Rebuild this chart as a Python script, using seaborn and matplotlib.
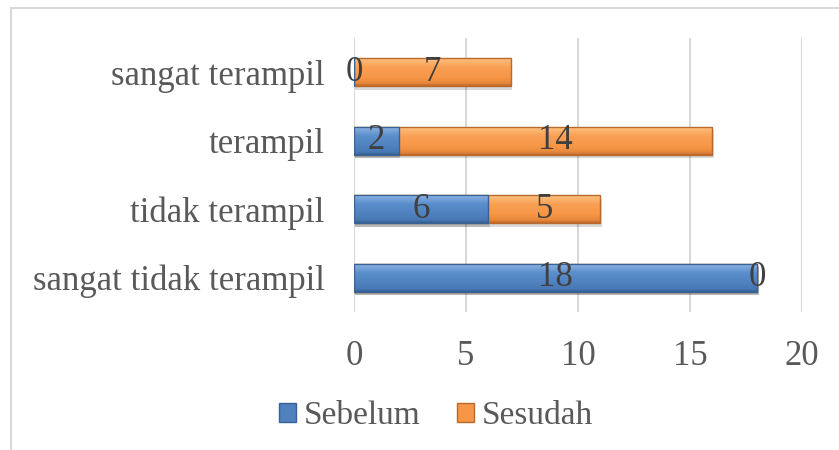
import numpy as np
import pandas as pd
import matplotlib
matplotlib.use("Agg")
import matplotlib.pyplot as plt
import seaborn as sns
from matplotlib.patches import Patch, Rectangle
from matplotlib.colors import to_rgb

categories = ["sangat terampil", "terampil", "tidak terampil", "sangat tidak terampil"]
sebelum = [0, 2, 6, 18]
sesudah = [7, 14, 5, 0]
series_names = ["Sebelum", "Sesudah"]
x_ticks = [0, 5, 10, 15, 20]

sns.set_theme(style="white")
plt.rcParams['font.family'] = ['Liberation Serif', 'DejaVu Serif']

BLUE = "#4F81BD"
ORANGE = "#F79646"
TEXT = "#595959"
LABEL = "#404040"
GRAD = {
    BLUE: ["#B5D0F2", "#80AAE0", "#5A8DCB", "#4F81BD", "#4778B3", "#355E92"],
    ORANGE: ["#FEDCA8", "#FDBA75", "#F9A055", "#F79646", "#E8883B", "#C06A2A"],
}
EDGE = {BLUE: "#3A6295", ORANGE: "#B9692C"}

df = pd.DataFrame({"cat": categories, "Sebelum": sebelum, "Sesudah": sesudah})
df["total"] = df["Sebelum"] + df["Sesudah"]

fig = plt.figure(figsize=(8.39, 4.5), dpi=100)
ax = fig.add_axes([354/839, 1-312/450, (802-354)/839, (312-38)/450])

sns.barplot(data=df, y="cat", x="total", order=categories, color=ORANGE, saturation=1,
            width=0.41, edgecolor=EDGE[ORANGE], linewidth=1.0, ax=ax, zorder=3)
n_orange = len(ax.patches)
sns.barplot(data=df, y="cat", x="Sebelum", order=categories, color=BLUE, saturation=1,
            width=0.41, edgecolor=EDGE[BLUE], linewidth=1.0, ax=ax, zorder=5)

ax.set_xlim(x_ticks[0], x_ticks[-1])
ax.set_ylim(len(categories) - 0.5, -0.5)

def stops_to_img(stops, n=80):
    cols = np.array([to_rgb(c) for c in stops])
    pos = np.array([0, 0.1, 0.35, 0.7, 0.9, 1.0])
    t = np.linspace(0, 1, n)
    img = np.stack([np.interp(t, pos, cols[:, k]) for k in range(3)], axis=1)
    return img[:, None, :]

for idx, p in enumerate(list(ax.patches)):
    if p.get_width() <= 0:
        continue
    base = ORANGE if idx < n_orange else BLUE
    x0, y0 = p.get_x(), p.get_y()
    w, h = p.get_width(), p.get_height()
    if idx < n_orange or True:
        sh = Rectangle((x0 + 0.06, y0 + 0.05), w, h, facecolor="#000000", alpha=0.15,
                       edgecolor="none", zorder=2.5)
        ax.add_patch(sh)
    im = ax.imshow(stops_to_img(GRAD[base]), extent=[x0, x0 + w, y0 + h, y0],
                   aspect="auto", zorder=p.get_zorder() + 0.1, interpolation="bilinear")
    im.set_clip_path(p)
    p.set_facecolor("none")
    p.set_zorder(p.get_zorder() + 0.2)

ax.set_xlim(x_ticks[0], x_ticks[-1])
ax.set_ylim(len(categories) - 0.5, -0.5)
ax.set_aspect("auto")

fs = 25
for i, c in enumerate(categories):
    b = df.loc[i, "Sebelum"]; s = df.loc[i, "Sesudah"]
    ax.text(b / 2, i, str(b), ha="center", va="center", fontsize=fs, color=LABEL, zorder=8)
    ax.text(b + s / 2, i, str(s), ha="center", va="center", fontsize=fs, color=LABEL, zorder=8)

ax.set_xticks(x_ticks)
ax.set_xticklabels([str(t) for t in x_ticks])
ax.xaxis.grid(True, color="#D9D9D9", linewidth=1.5, zorder=0)
ax.set_axisbelow(True)
for sp in ax.spines.values():
    sp.set_visible(False)
ax.set_xlabel(""); ax.set_ylabel("")
ax.tick_params(axis="both", length=0, labelsize=fs, colors=TEXT)
ax.tick_params(axis="x", pad=20)
ax.tick_params(axis="y", pad=21)

handles = [Patch(facecolor=BLUE, edgecolor=EDGE[BLUE]), Patch(facecolor=ORANGE, edgecolor=EDGE[ORANGE])]
fig.legend(handles, series_names, loc="center", bbox_to_anchor=(436/839, 1-416/450), ncol=2,
           frameon=False, fontsize=24, labelcolor=TEXT, handlelength=0.5, handleheight=0.5,
           handletextpad=0.24, columnspacing=1.1)

fig.add_artist(Rectangle((11/839, -0.1), 2, (1 - 8/450) + 0.1, transform=fig.transFigure, fill=False,
                         edgecolor="#D9D9D9", linewidth=1.5))
fig.savefig("out.png", dpi=100)
